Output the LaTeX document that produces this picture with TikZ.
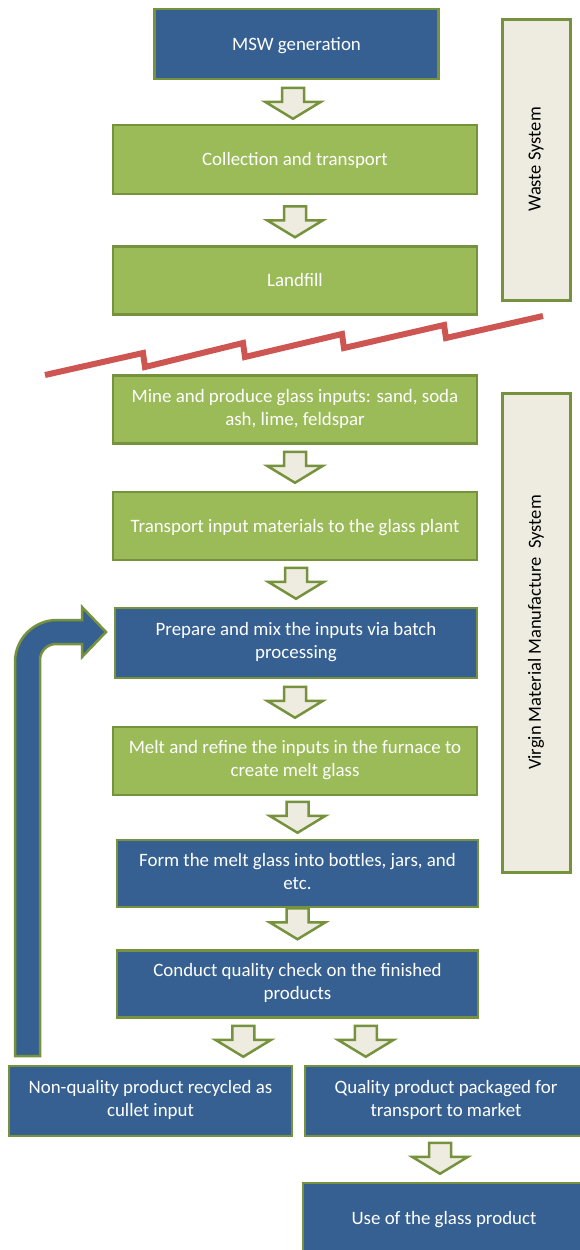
\documentclass[tikz,border=0pt]{standalone}
\usepackage{fontspec}
\setmainfont{Carlito}
\usetikzlibrary{calc}
\definecolor{boxblue}{RGB}{54,96,146}
\definecolor{boxgreen}{RGB}{155,187,89}
\definecolor{bordergreen}{RGB}{118,146,60}
\definecolor{beige}{RGB}{238,236,225}
\definecolor{breakred}{RGB}{205,85,82}
\tikzset{
  box/.style={draw=bordergreen, line width=2.5pt, text=white, align=center, inner sep=0pt,
    font=\fontsize{18.9}{23}\selectfont,
    execute at begin node={\rule{0pt}{17pt}},
    execute at end node={\rule[-5pt]{0pt}{5pt}}},
  twoline/.style={execute at begin node={\rule{0pt}{21pt}}},
  bluebox/.style={box, fill=boxblue},
  greenbox/.style={box, fill=boxgreen},
  sidebox/.style={draw=bordergreen, line width=3pt, fill=beige, inner sep=0pt, rotate=90,
    text=black, font=\fontsize{18.5}{23}\selectfont},
  blockarrow/.pic={\draw[draw=bordergreen, line width=2.5pt, fill=beige, line join=miter]
    (-11,-31) -- (11,-31) -- (11,-17) -- (28,-17) -- (0,0) -- (-28,-17) -- (-11,-17) -- cycle;}
}
\begin{document}
\begin{tikzpicture}[x=1pt,y=-1pt]
\useasboundingbox (0,0) rectangle (580,1250);
\clip (0,0) rectangle (580,1250);
\fill[white] (0,0) rectangle (580,1250);

% side boxes
\node[sidebox, minimum width=281, minimum height=68] (ws) at (536,159.5) {Waste System};
\node[sidebox, minimum width=479, minimum height=68] (vm) at (536,632.5) {Virgin Material Manufacture~~System};

% main chain
\node[bluebox,  minimum width=284, minimum height=70] (b1) at (296.5,44) {MSW generation};
\node[greenbox, minimum width=364, minimum height=69] (b2) at (295,159.5) {Collection and transport};
\node[greenbox, minimum width=364, minimum height=68] (b3) at (295,280.5) {Landfill};
\node[greenbox, twoline, minimum width=364, minimum height=68] (b4) at (295,409.5) {Mine and produce glass inputs: sand, soda\\ash, lime, feldspar};
\node[greenbox, minimum width=364, minimum height=68] (b5) at (295,526) {Transport input materials to the glass plant};
\node[bluebox, twoline, minimum width=362, minimum height=70] (b6) at (296,643) {Prepare and mix the inputs via batch\\processing};
\node[greenbox, twoline, minimum width=364, minimum height=68] (b7) at (295,761) {Melt and refine the inputs in the furnace to\\create melt glass};
\node[bluebox, twoline, minimum width=361, minimum height=67] (b8) at (297.5,873.5) {Form the melt glass into bottles, jars, and\\etc.};
\node[bluebox, twoline, minimum width=361, minimum height=67] (b9) at (297.5,984) {Conduct quality check on the finished\\products};
\node[bluebox, twoline, minimum width=283, minimum height=70] (nq) at (150.5,1101) {Non-quality product recycled as\\cullet input};
\node[bluebox, twoline, minimum width=282, minimum height=70] (ql) at (446,1101) {Quality product packaged for\\transport to market};
\node[bluebox,  minimum width=282, minimum height=70] (use) at (444,1218) {Use of the glass product};

% block arrows
\pic at ($(b2.north)+(-2,-5)$) {blockarrow};
\pic at ($(b3.north)+(0,-8)$) {blockarrow};
\pic at ($(b5.north)+(0,-8)$) {blockarrow};
\pic at ($(b6.north)+(0,-8)$) {blockarrow};
\pic at ($(b7.north)+(0,-8)$) {blockarrow};
\pic at ($(b8.north)+(0,-6)$) {blockarrow};
\pic at ($(b9.north)+(0,-10)$) {blockarrow};
\pic at ($(nq.north east)+(-50,-8)$) {blockarrow};
\pic at ($(ql.north west)+(62,-8)$) {blockarrow};
\pic at ($(use.north)+(-4,-8)$) {blockarrow};

% recycling arrow
\draw[draw=bordergreen, line width=2.5pt, fill=boxblue, line join=miter]
  (15,1056) -- (15,662) .. controls (15,638.8) and (33.8,620) .. (57,620)
  -- (82,620) -- (82,607) -- (106,632) -- (82,657) -- (82,644) -- (56,644)
  .. controls (47.2,644) and (40,651.2) .. (40,660) -- (40,1056) -- cycle;

% system break line
\draw[breakred, line width=6pt]
  (45,375) -- (143,353) -- (145,367) -- (243,343) -- (245,357) -- (342,334)
  -- (344,348) -- (444,325) -- (446,338) -- (543,316);
\end{tikzpicture}
\end{document}
